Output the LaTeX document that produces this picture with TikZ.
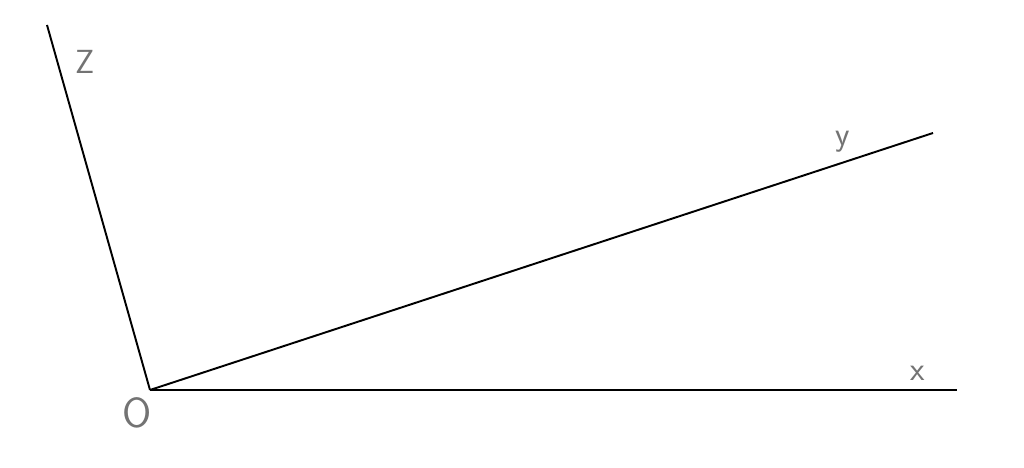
\documentclass[tikz,border=0pt]{standalone}
\usepackage{fontspec}
\setmainfont{DejaVu Sans}
\usetikzlibrary{calc}

\begin{document}
\begin{tikzpicture}

\tikzset{axis/.style={draw=black, line width=1.1pt}}
\tikzset{axislabel/.style={text=black!55, font=\fontsize{19}{20}\selectfont\sffamily, inner sep=0pt}}

\draw[draw=none, fill=white] (0, 0) rectangle (20.48, 9.36);

\coordinate (O) at (3.0, 1.56);
\coordinate (X) at (19.14, 1.56);
\coordinate (Y) at (18.66, 6.70);
\coordinate (Z) at (0.94, 8.86);

\node[axislabel] (Zl) at (1.70, 8.12) {Z};
\node[axislabel] (Yl) at (16.86, 6.52) {y};
\node[axislabel] (Xl) at (18.36, 1.90) {x};
\node[axislabel, font=\fontsize{24}{26}\selectfont\sffamily] (Ol) at (2.74, 1.10) {O};

\draw[axis] (O) -- (X);
\draw[axis] (O) -- (Y);
\draw[axis] (O) -- (Z);

\end{tikzpicture}
\end{document}
